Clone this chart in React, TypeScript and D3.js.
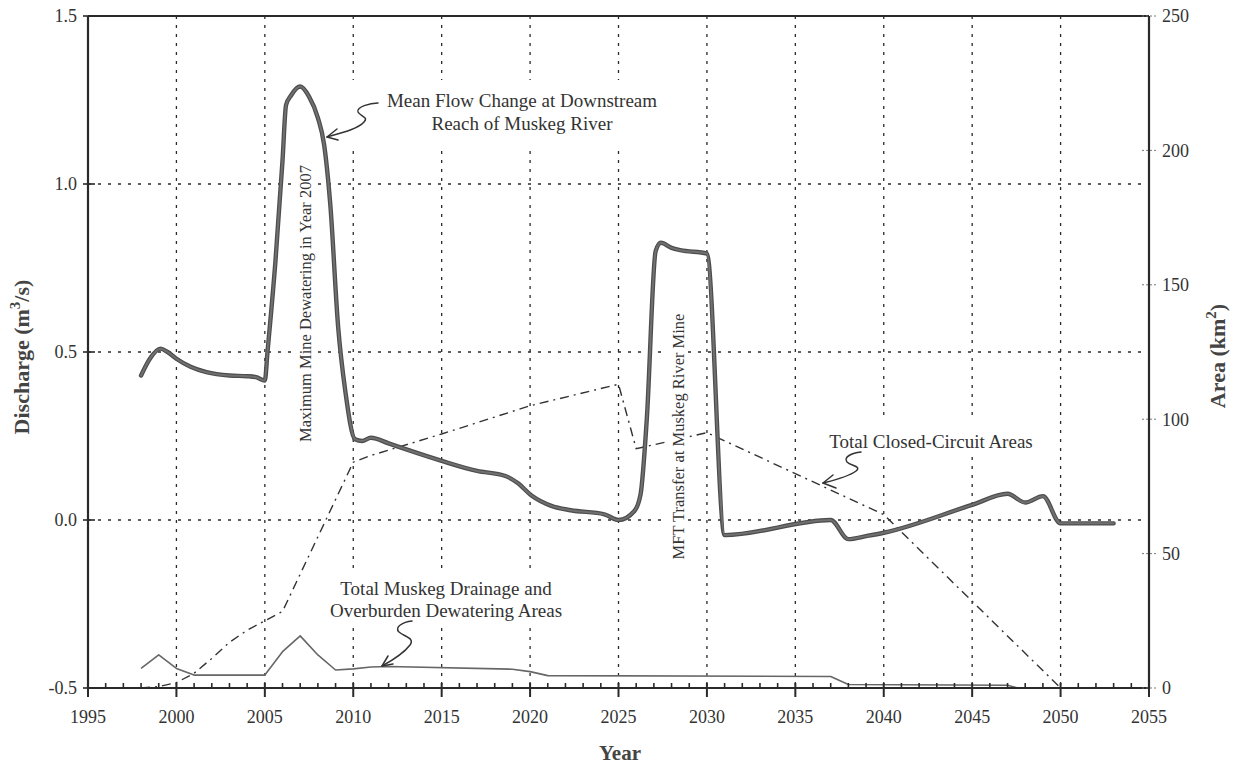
import React from "react";
import * as d3 from "d3";

// ---- data -------------------------------------------------------------
// Mean flow change at downstream reach of Muskeg River (m^3/s)
const flowYears = [
  1998.0, 1998.5, 1999.1, 1999.5, 2000.0, 2000.8, 2001.7, 2003.0, 2004.0, 2004.5,
  2005.0, 2005.15, 2005.6, 2006.0, 2006.2, 2006.5, 2007.0, 2007.5, 2008.0, 2008.35,
  2008.7, 2009.15, 2009.55, 2010.1, 2010.5, 2011.0, 2012.0, 2013.0, 2015.0, 2017.0,
  2018.6, 2019.3, 2020.1, 2021.2, 2022.3, 2024.2, 2025.0, 2025.9, 2026.25, 2026.6,
  2027.1, 2027.4, 2028.0, 2028.5, 2030.0, 2031.0, 2037.0, 2038.0, 2039.0, 2040.0,
  2045.0, 2047.0, 2048.0, 2049.0, 2050.0, 2053.0,
];
const flowValues = [
  0.43, 0.48, 0.51, 0.5, 0.48, 0.456, 0.44, 0.43, 0.428, 0.425,
  0.415, 0.5, 0.77, 1.07, 1.235, 1.265, 1.29, 1.26, 1.197, 1.118,
  0.94, 0.572, 0.384, 0.24, 0.235, 0.245, 0.228, 0.21, 0.176, 0.146,
  0.131, 0.11, 0.072, 0.042, 0.029, 0.017, 0.0, 0.027, 0.077, 0.3,
  0.8, 0.825, 0.81, 0.803, 0.793, -0.045, 0.0, -0.057, -0.048, -0.038,
  0.045, 0.078, 0.052, 0.071, -0.01, -0.01,
];

// Total closed-circuit areas (km^2)
const closedYears = [1998, 1999, 2000, 2001, 2002, 2003, 2004, 2005, 2006, 2010, 2011, 2015, 2020, 2025, 2026, 2030, 2040, 2050];
const closedArea = [0, 0.5, 2, 5.5, 11, 17, 21.5, 25, 28.5, 84, 86.5, 94.5, 105, 113, 89, 95, 64.5, 0];

// Total muskeg drainage and overburden dewatering areas (km^2)
const drainYears = [1998, 1999, 2000, 2001, 2005, 2006, 2007, 2008, 2009, 2010, 2011, 2012, 2019, 2020, 2021, 2037, 2038, 2047, 2047.6];
const drainArea = [7.3, 12.3, 7.3, 4.8, 4.8, 13.5, 19.4, 12.3, 6.7, 7.1, 7.8, 8.0, 7.0, 6.1, 4.6, 4.3, 1.3, 1.0, 0];

// axes
const xTicks = [1995, 2000, 2005, 2010, 2015, 2020, 2025, 2030, 2035, 2040, 2045, 2050, 2055];
const leftTicks = [-0.5, 0.0, 0.5, 1.0, 1.5];
const leftGrid = [0.0, 0.5, 1.0];
const rightTicks = [0, 50, 100, 150, 200, 250];

const SERIF = '"Liberation Serif", "Times New Roman", serif';
const INK = "#2a2a2a";

export default function App() {
  const left = 88, right = 1149, top = 16, bottom = 688;
  const x = d3.scaleLinear().domain([1995, 2055]).range([left, right]);
  const yL = d3.scaleLinear().domain([-0.5, 1.5]).range([bottom, top]);
  const yR = d3.scaleLinear().domain([0, 250]).range([bottom, top]);

  const flowPath = d3
    .line<number>()
    .x((_, i) => x(flowYears[i]))
    .y((d) => yL(d))
    .curve(d3.curveMonotoneX)(flowValues) as string;

  const closedPath = d3
    .line<number>()
    .x((_, i) => x(closedYears[i]))
    .y((d) => yR(d))(closedArea) as string;

  const drainPath = d3
    .line<number>()
    .x((_, i) => x(drainYears[i]))
    .y((d) => yR(d))(drainArea) as string;

  const gridYears = d3.range(2000, 2051, 5);
  const minorYears = d3.range(1996, 2055).filter((yv) => yv % 5 !== 0);

  // plain hyphen for negatives, one decimal
  const fmtLeft = (v: number) => v.toFixed(1);

  return (
    <svg
      width={1240}
      height={767}
      style={{ position: "absolute", left: 0, top: 0, background: "#fff" }}
      fontFamily={SERIF}
    >
      <rect x={0} y={0} width={1240} height={767} fill="#fff" />

      {/* dotted grid */}
      <g stroke={INK} strokeWidth={1.3} fill="none">
        {gridYears.map((yr) => (
          <line key={"gv" + yr} x1={x(yr)} x2={x(yr)} y1={top} y2={bottom} strokeDasharray="3,6" />
        ))}
        {leftGrid.map((v) => (
          <line key={"gh" + v} x1={left} x2={right} y1={yL(v)} y2={yL(v)} strokeDasharray="3,7" />
        ))}
      </g>

      {/* area series (right axis) */}
      <path d={closedPath} fill="none" stroke="#333" strokeWidth={1.4} strokeDasharray="9,5,2,5" />
      <path d={drainPath} fill="none" stroke="#666" strokeWidth={1.6} strokeLinejoin="round" />

      {/* label backgrounds */}
      <g fill="#fff">
        <rect x={348} y={80} width={322} height={68} />
        <rect x={325} y={568} width={243} height={60} />
        <rect x={822} y={421} width={218} height={36} />
        <rect x={295} y={158} width={18} height={291} />
        <rect x={667} y={308} width={21} height={258} />
      </g>

      {/* discharge series (left axis) */}
      <path d={flowPath} fill="none" stroke="#4d4d4d" strokeWidth={4.4} strokeLinejoin="round" strokeLinecap="round" />
      <path d={flowPath} fill="none" stroke="#707070" strokeWidth={2} strokeLinejoin="round" strokeLinecap="round" />

      {/* frame */}
      <g stroke={INK} fill="none">
        <line x1={left} x2={right} y1={top} y2={top} strokeWidth={1.8} />
        <line x1={left} x2={left} y1={top} y2={bottom} strokeWidth={2.2} />
        <line x1={right} x2={right} y1={top} y2={bottom} strokeWidth={2.2} />
        <line x1={left} x2={right} y1={bottom} y2={bottom} strokeWidth={2.2} />
      </g>

      {/* ticks */}
      <g stroke={INK}>
        {xTicks.map((yr) => (
          <line key={"xt" + yr} x1={x(yr)} x2={x(yr)} y1={bottom - 5} y2={bottom + 9} strokeWidth={2} />
        ))}
        {minorYears.map((yr) => (
          <line key={"xm" + yr} x1={x(yr)} x2={x(yr)} y1={bottom - 5} y2={bottom} strokeWidth={1.6} />
        ))}
        {leftTicks.map((v) => (
          <line key={"lt" + v} x1={left - 5} x2={left + 7} y1={yL(v)} y2={yL(v)} strokeWidth={1.6} />
        ))}
        {rightTicks.map((v) => (
          <line key={"rt" + v} x1={right - 7} x2={right + 7} y1={yR(v)} y2={yR(v)} strokeWidth={1} strokeDasharray="2,2" stroke="#777" />
        ))}
      </g>

      {/* tick labels */}
      <g fill="#333" fontSize={18}>
        {xTicks.map((yr) => (
          <text key={"xl" + yr} x={x(yr)} y={723} textAnchor="middle">
            {yr}
          </text>
        ))}
        {leftTicks.map((v) => (
          <text key={"ll" + v} x={77} y={yL(v)} dy="0.35em" textAnchor="end">
            {fmtLeft(v)}
          </text>
        ))}
        {rightTicks.map((v) => (
          <text key={"rl" + v} x={1162} y={yR(v)} dy="0.35em" textAnchor="start">
            {v}
          </text>
        ))}
      </g>

      {/* axis titles */}
      <text x={620} y={760} textAnchor="middle" fontSize={21} fontWeight="bold" fill="#444">
        Year
      </text>
      <text transform="translate(29,357) rotate(-90)" textAnchor="middle" fontSize={22} fontWeight="bold" fill="#444">
        Discharge (m<tspan dy={-9} fontSize={15}>3</tspan>
        <tspan dy={9}>/s)</tspan>
      </text>
      <text transform="translate(1225,356) rotate(-90)" textAnchor="middle" fontSize={22} fontWeight="bold" fill="#444">
        Area (km<tspan dy={-9} fontSize={15}>2</tspan>
        <tspan dy={9}>)</tspan>
      </text>

      {/* annotations */}
      <g fill="#333" fontSize={19}>
        <text x={522} y={107} textAnchor="middle">Mean Flow Change at Downstream</text>
        <text x={522} y={130} textAnchor="middle">Reach of Muskeg River</text>
        <text x={446} y={595} textAnchor="middle">Total Muskeg Drainage and</text>
        <text x={446} y={617} textAnchor="middle">Overburden Dewatering Areas</text>
        <text x={931} y={448} textAnchor="middle">Total Closed-Circuit Areas</text>
      </g>
      <g fill="#333" fontSize={16.5}>
        <text transform="translate(310.5,303.5) rotate(-90)" textAnchor="middle">
          Maximum Mine Dewatering in Year 2007
        </text>
        <text transform="translate(683.5,436.5) rotate(-90)" textAnchor="middle">
          MFT Transfer at Muskeg River Mine
        </text>
      </g>

      {/* curly pointer arrows */}
      <g fill="none" stroke="#333" strokeWidth={1.5} strokeLinecap="round" strokeLinejoin="round">
        <path d="M378,103 C370,103 356,107 358,112 C360,116 369,117 364,122 C358,129 341,133 327,137" />
        <path d="M337,129 L327,137 L338,140" />
        <path d="M412,621 C403,622 394,627 399,632 C405,637 415,638 410,645 C404,653 393,660 382,666" />
        <path d="M388,656 L382,666 L393,664" />
        <path d="M861,452 C852,453 843,457 847,462 C851,466 862,466 856,471 C848,477 835,480 823,483" />
        <path d="M833,475 L823,483 L836,488" />
      </g>
    </svg>
  );
}
